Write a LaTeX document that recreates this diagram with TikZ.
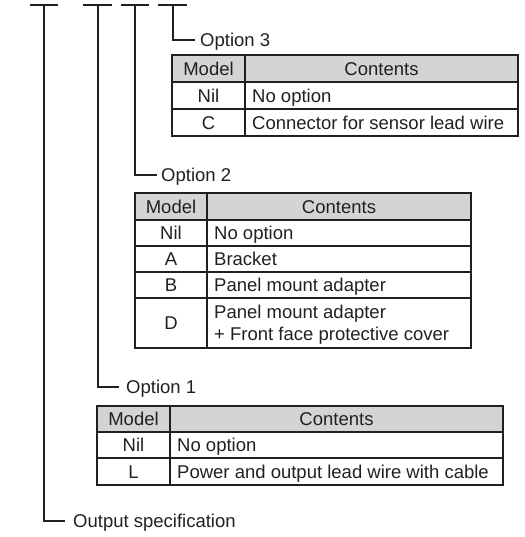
\documentclass[tikz,border=0pt]{standalone}
\usepackage{fontspec}
\setmainfont{Liberation Sans}
\definecolor{hdrgray}{RGB}{212,212,212}
\definecolor{ink}{RGB}{35,31,32}
\begin{document}
\begin{tikzpicture}[x=1pt,y=-1pt,
  conn/.style={line width=1.4pt, draw=ink},
  outer/.style={line width=1.9pt, draw=ink},
  inner/.style={line width=1.1pt, draw=ink},
  txt/.style={inner sep=0pt, font=\fontsize{18.5}{22}\selectfont, text=ink},
  ctr/.style={txt, anchor=base},
  lft/.style={txt, anchor=base west}]
\useasboundingbox (0,0) rectangle (524,537);

% top bars
\draw[conn] (30,5) -- (58,5);
\draw[conn] (83,5) -- (112,5);
\draw[conn] (121,5) -- (149,5);
\draw[conn] (158,5) -- (187,5);
\coordinate (barO) at (44,5);
\coordinate (bar1) at (98,5);
\coordinate (bar2) at (135,5);
\coordinate (bar3) at (173,5);
\coordinate (end3) at (195,40);
\coordinate (end2) at (157,175);
\coordinate (end1) at (119,387);
\coordinate (endO) at (65,521);

% labels
\node[lft] (opt3) at (200,46.7) {Option 3};
\node[lft] (opt2) at (161,181.7) {Option 2};
\node[lft] (opt1) at (126,393.7) {Option 1};
\node[lft] (outspec) at (73,527.7) {Output specification};

\draw[conn] (bar3) |- (end3);
\draw[conn] (bar2) |- (end2);
\draw[conn] (bar1) |- (end1);
\draw[conn] (barO) |- (endO);

% ---- Table 3
\fill[hdrgray] (172,55) rectangle (518,82);
\draw[inner] (172,82) -- (518,82) (172,109) -- (518,109) (245,55) -- (245,136);
\draw[outer] (172,55) rectangle (518,136);
\node[ctr] (t3h1) at (208.5,75.2) {Model};
\node[ctr] (t3h2) at (381.5,75.2) {Contents};
\node[ctr] (t3m1) at (208.5,102.2) {Nil};
\node[lft] (t3c1) at (252,102.2) {No option};
\node[ctr] (t3m2) at (208.5,129.2) {C};
\node[lft] (t3c2) at (252,129.2) {Connector for sensor lead wire};

% ---- Table 2
\fill[hdrgray] (135,193) rectangle (471,220);
\draw[inner] (135,220) -- (471,220) (135,246) -- (471,246) (135,272) -- (471,272)
  (135,298) -- (471,298) (207,193) -- (207,348);
\draw[outer] (135,193) rectangle (471,348);
\node[ctr] (t2h1) at (171,213.2) {Model};
\node[ctr] (t2h2) at (339,213.2) {Contents};
\node[ctr] (t2m1) at (171,239.7) {Nil};
\node[lft] (t2c1) at (214,239.7) {No option};
\node[ctr] (t2m2) at (171,265.7) {A};
\node[lft] (t2c2) at (214,265.7) {Bracket};
\node[ctr] (t2m3) at (171,291.7) {B};
\node[lft] (t2c3) at (214,291.7) {Panel mount adapter};
\node[ctr] (t2m4) at (171,329.7) {D};
\node[lft] (t2c4a) at (214,318.5) {Panel mount adapter};
\node[lft] (t2c4b) at (214,340.5) {+ Front face protective cover};

% ---- Table 1
\fill[hdrgray] (97,406) rectangle (503,432);
\draw[inner] (97,432) -- (503,432) (97,458) -- (503,458) (170,406) -- (170,485);
\draw[outer] (97,406) rectangle (503,485);
\node[ctr] (t1h1) at (133.5,425.7) {Model};
\node[ctr] (t1h2) at (336.5,425.7) {Contents};
\node[ctr] (t1m1) at (133.5,451.7) {Nil};
\node[lft] (t1c1) at (177,451.7) {No option};
\node[ctr] (t1m2) at (133.5,478.2) {L};
\node[lft] (t1c2) at (177,478.2) {Power and output lead wire with cable};
\end{tikzpicture}
\end{document}
